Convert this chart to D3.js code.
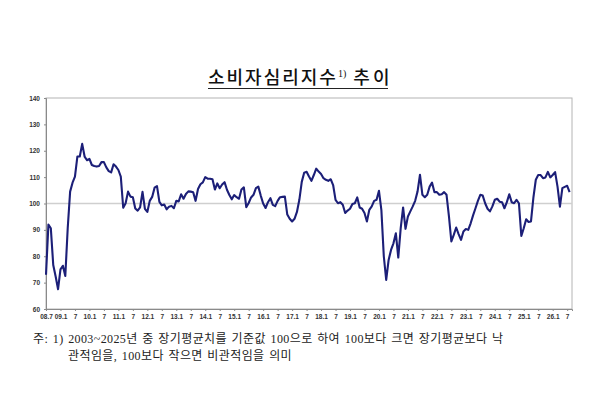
<!DOCTYPE html>
<html>
<head>
<meta charset="utf-8">
<script src="https://cdn.jsdelivr.net/npm/d3@7"></script>
<style>
  body { margin: 0; background: #fff; }
  svg { display: block; }
  .axis text { font-family: "Liberation Sans", Arial, sans-serif; font-size: 6.5px; font-weight: bold; fill: #333; }
  .axis path, .axis line { stroke: #8a8a8a; }
</style>
</head>
<body>
<svg width="600" height="400"></svg>
<script>
// 소비자심리지수, 월별 (2008.7 ~ 2026.8)
const startYear = 2008, startMonth = 7;
const ccsi = [
  73, 92, 90.6, 76.7, 72.3, 67.5,                                          // 2008.7~
  75, 76.4, 72.5, 90.6, 104.5, 107.9, 110.2, 117.8, 117.8, 122.6, 117.8, 116.4, // 2009
  116.9, 114.6, 114.2, 114, 114.2, 115.7, 115.7, 113.7, 112.3, 111.8, 114.9, 114, // 2010
  112.7, 110.2, 98.4, 100.1, 104.5, 102.6, 102.4, 98.1, 97.3, 98.5, 104.4, 98,   // 2011
  96.8, 101, 102.5, 106, 106.6, 100.6, 99.3, 99.6, 97.8, 98.8, 99.1, 98.2,       // 2012
  101, 100.8, 103.5, 101.8, 103.6, 104.6, 104.5, 104.3, 101, 105.5, 107.3, 108,  // 2013
  110, 109.4, 109.4, 109.2, 105.3, 107.6, 105.8, 107.2, 108.1, 105.2, 103.2, 101.6, // 2014
  103.2, 102.4, 101.8, 105.3, 106.1, 98.6, 100.2, 102.3, 103.3, 105.8, 106.4, 103, // 2015
  100, 98.3, 100.5, 102, 99.5, 99, 101, 102.4, 102.5, 102.6, 95.8, 94.2,         // 2016
  93.2, 94.2, 96.8, 101.4, 108.2, 111.7, 112, 110.2, 108.6, 110.8, 113.2, 112.1, // 2017
  111.2, 109.6, 109, 108.6, 109.2, 107, 101.4, 100.1, 100.5, 99.5, 96.4, 97.3,   // 2018
  98, 99.8, 100.1, 102.3, 98.5, 98, 96.4, 93.2, 97.6, 98.9, 101, 101.4,          // 2019
  104.8, 97.5, 80, 71, 78.6, 82.4, 84.9, 88.7, 79.5, 90.6, 98.5, 90.4,           // 2020
  95.1, 97, 98.9, 101, 104.6, 110.9, 103.3, 102.4, 103.3, 106.4, 107.9, 104.3,   // 2021
  104.3, 103.3, 103.5, 104.3, 103.3, 95.1, 85.6, 88.1, 90.9, 88.4, 86.2, 89.4,   // 2022
  90.3, 90, 92.5, 95.5, 98.2, 101, 103.3, 103, 100.1, 98, 97, 98.9,              // 2023
  101.4, 101.8, 100.7, 100.5, 98.2, 100.5, 103.5, 100.5, 100.1, 101.4, 100.1, 87.7, // 2024
  90.6, 94, 93, 93.2, 102.2, 109, 110.8, 110.8, 109.6, 109.9, 112, 109.9,        // 2025
  110.8, 111.9, 106.4, 98.8, 105.8, 106.3, 106.7, 104.3                          // 2026.1~8
];
const baseValue = 100;
const yTicks = [60, 70, 80, 90, 100, 110, 120, 130, 140];
const xTickLabels = ["08.7", "09.1", "7", "10.1", "7", "11.1", "7", "12.1", "7",
  "13.1", "7", "14.1", "7", "15.1", "7", "16.1", "7", "17.1", "7", "18.1", "7",
  "19.1", "7", "20.1", "7", "21.1", "7", "22.1", "7", "23.1", "7", "24.1", "7",
  "25.1", "7", "26.1", "7"];

const svg = d3.select("svg");
const plotLeft = 46, plotRight = 572, plotTop = 98, plotBottom = 309;

// month index from 2008.7
const x = d3.scaleLinear().domain([0, ccsi.length]).range([plotLeft, plotRight]);
const y = d3.scaleLinear().domain([60, 140]).range([plotBottom, plotTop]);

// title
const title = svg.append("text")
  .attr("x", 208).attr("y", 84)
  .style("font-family", "'Noto Sans CJK KR', sans-serif")
  .style("font-size", "18px")
  .style("font-weight", 500)
  .attr("fill", "#111");
title.append("tspan").text("소비자심리지수").style("letter-spacing", "2px");
title.append("tspan").text("1)").attr("dy", -7)
  .style("font-family", "'Liberation Serif', serif").style("font-size", "10px");
title.append("tspan").text(" 추이").attr("dy", 7).style("letter-spacing", "3px");
const tb = title.node().getBBox();
svg.append("line")
  .attr("x1", tb.x).attr("x2", 388)
  .attr("y1", 88.5).attr("y2", 88.5)
  .attr("stroke", "#222").attr("stroke-width", 1);

// frame
svg.append("rect")
  .attr("x", plotLeft).attr("y", plotTop)
  .attr("width", plotRight - plotLeft).attr("height", plotBottom - plotTop)
  .attr("fill", "none").attr("stroke", "#b4b4b4").attr("stroke-width", 1);

// base line 100
svg.append("line")
  .attr("x1", plotLeft).attr("x2", plotRight)
  .attr("y1", y(baseValue)).attr("y2", y(baseValue))
  .attr("stroke", "#cfcfcf").attr("stroke-width", 1.5);

svg.append("g").attr("class", "axis")
  .attr("transform", "translate(" + plotLeft + ",0)")
  .call(d3.axisLeft(y).tickValues(yTicks).tickSize(2).tickPadding(4).tickFormat(d3.format("d")));

const xTicks = xTickLabels.map(function (d, i) { return i * 6; });
svg.append("g").attr("class", "axis")
  .attr("transform", "translate(0," + plotBottom + ")")
  .call(d3.axisBottom(x).tickValues(xTicks).tickSize(2).tickPadding(3)
    .tickFormat(function (d, i) { return xTickLabels[i]; }));

// series
const line = d3.line()
  .x(function (d, i) { return x(i); })
  .y(function (d) { return y(d); });

svg.append("path")
  .datum(ccsi)
  .attr("d", line)
  .attr("fill", "none")
  .attr("stroke", "#1c1f78")
  .attr("stroke-width", 2.1)
  .attr("stroke-linejoin", "round");

// footnote
const noteFont = "'Liberation Serif', 'Noto Sans CJK KR', serif";
svg.append("text")
  .attr("x", 33).attr("y", 342.5)
  .style("font-family", noteFont).style("font-size", "12px")
  .style("letter-spacing", "0.4px").style("word-spacing", "1.2px").attr("fill", "#222")
  .text("주: 1) 2003~2025년 중 장기평균치를 기준값 100으로 하여 100보다 크면 장기평균보다 낙");
svg.append("text")
  .attr("x", 68).attr("y", 359.5)
  .style("font-family", noteFont).style("font-size", "12px")
  .style("letter-spacing", "0.4px").style("word-spacing", "1.2px").attr("fill", "#222")
  .text("관적임을, 100보다 작으면 비관적임을 의미");
</script>
</body>
</html>
